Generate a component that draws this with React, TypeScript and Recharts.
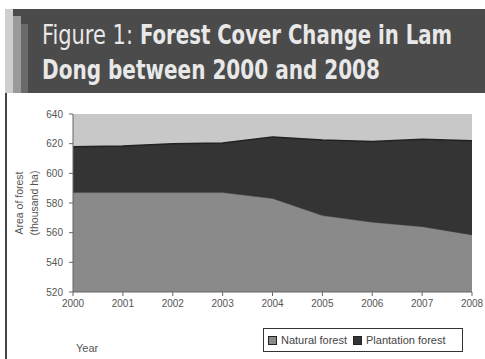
import { AreaChart, Area, XAxis, YAxis, CartesianGrid, Legend } from 'recharts';

const years = ['2000', '2001', '2002', '2003', '2004', '2005', '2006', '2007', '2008'];
const naturalForest = [587, 587, 587, 587, 583, 571.5, 567, 564, 558.5];
const plantationForest = [31, 31.5, 33, 33.5, 41.5, 51, 54.5, 59, 63.5];
const yTicks = [520, 540, 560, 580, 600, 620, 640];

const data = years.map((year, i) => ({
  year,
  natural: naturalForest[i],
  plantation: plantationForest[i],
}));

const FONT = '"Liberation Sans", Arial, sans-serif';
const TITLE_FONT = '"DejaVu Sans Condensed", "DejaVu Sans", sans-serif';
const SX = 0.8; // horizontal squeeze for the condensed title look

function TitleText({ x, y, w, bold, children }: { x: number; y: number; w: number; bold?: boolean; children: string }) {
  return (
    <g transform={`translate(${x} ${y}) scale(${SX} 1)`}>
      <text x={0} y={0} fontWeight={bold ? 'bold' : 'normal'} textLength={w / SX} lengthAdjust="spacingAndGlyphs">
        {children}
      </text>
    </g>
  );
}

function LegendBox() {
  const item = (label: string, color: string) => (
    <span style={{ display: 'flex', alignItems: 'center', gap: 4 }}>
      <span style={{ width: 7, height: 7, background: color, border: '1px solid #222' }} />
      {label}
    </span>
  );
  return (
    <div style={{
      width: 200, height: 24, boxSizing: 'border-box', border: '1px solid #333',
      display: 'flex', alignItems: 'center', gap: 6, padding: '0 4px',
      fontFamily: FONT, fontSize: 11, color: '#444', background: '#fff',
    }}>
      {item('Natural forest', '#8a8a8a')}
      {item('Plantation forest', '#333')}
    </div>
  );
}

export default function App() {
  return (
    <div style={{ position: 'absolute', left: 0, top: 0, width: 485, height: 359, background: '#fff', overflow: 'hidden' }}>
      {/* header band */}
      <div style={{ position: 'absolute', left: 5, top: 9, width: 480, height: 84, background: '#4b4b4b' }} />
      <div style={{ position: 'absolute', left: 5, top: 9, width: 8, height: 84, background: '#cfcfcf' }} />
      <div style={{ position: 'absolute', left: 13, top: 16, width: 8, height: 77, background: '#9a9a9a' }} />
      <div style={{ position: 'absolute', left: 21, top: 24, width: 7, height: 69, background: '#6a6a6a' }} />
      <svg style={{ position: 'absolute', left: 0, top: 0 }} width={485} height={93}>
        <g fontFamily={TITLE_FONT} fontSize={27} fill="#e8e8e8">
          <TitleText x={42} y={44} w={91}>Figure 1:</TitleText>
          <TitleText x={140} y={44} w={312} bold>Forest Cover Change in Lam</TitleText>
          <TitleText x={42} y={79} w={338} bold>Dong between 2000 and 2008</TitleText>
        </g>
      </svg>
      <div style={{ position: 'absolute', left: 5, top: 93, width: 2, height: 266, background: '#444' }} />

      <div style={{ position: 'absolute', left: 0, top: 93 }}>
        <AreaChart width={485} height={266} data={data} margin={{ top: 21, right: 13, bottom: 0, left: 0 }}>
          <CartesianGrid horizontal={false} vertical={false} fill="#c8c8c8" stroke="none" />
          <XAxis
            dataKey="year"
            height={67}
            tickSize={4}
            tickMargin={4}
            stroke="#666"
            tick={{ fill: '#555', fontSize: 10, fontFamily: FONT }}
            interval={0}
            label={{
              content: () => (
                <text x={76} y={259} fill="#555" fontSize={11} fontFamily={FONT}>Year</text>
              ),
            }}
          />
          <YAxis
            width={73}
            domain={[520, 640]}
            ticks={yTicks}
            allowDataOverflow
            tickSize={4}
            tickMargin={6}
            stroke="#666"
            tick={{ fill: '#555', fontSize: 10, fontFamily: FONT }}
            label={{
              content: () => (
                <g fill="#555" fontSize={10.5} fontFamily={FONT} textAnchor="middle">
                  <text x={23} y={110} transform="rotate(-90 23 110)">Area of forest</text>
                  <text x={38} y={110} transform="rotate(-90 38 110)">(thousand ha)</text>
                </g>
              ),
            }}
          />
          <Legend
            layout="horizontal"
            verticalAlign="middle"
            align="center"
            wrapperStyle={{ left: 263, top: 235, width: 200, height: 24 }}
            content={() => <LegendBox />}
          />
          <Area type="linear" dataKey="natural" stackId="f" name="Natural forest"
            fill="#8a8a8a" stroke="#6e6e6e" strokeWidth={1} fillOpacity={1} isAnimationActive={false} />
          <Area type="linear" dataKey="plantation" stackId="f" name="Plantation forest"
            fill="#343434" stroke="#222" strokeWidth={1.5} fillOpacity={1} isAnimationActive={false} />
        </AreaChart>
      </div>
    </div>
  );
}
